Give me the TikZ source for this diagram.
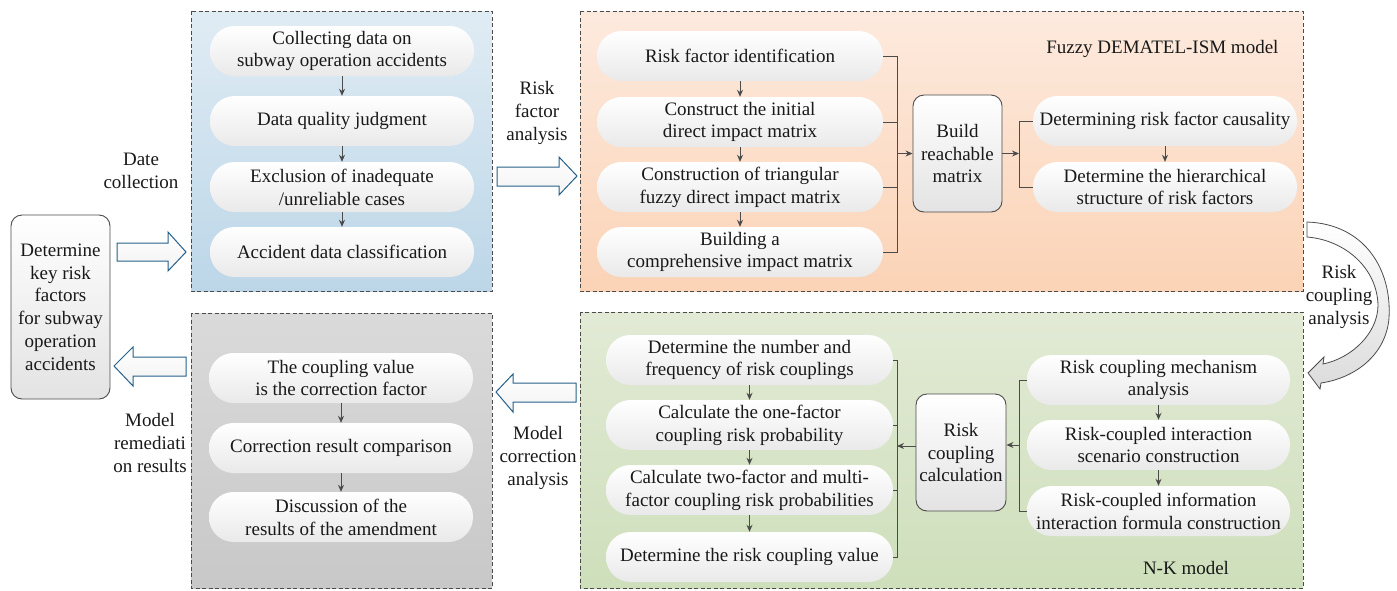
\documentclass[tikz,border=0pt]{standalone}
\usepackage{fontspec}
\setmainfont{Liberation Serif}
\usetikzlibrary{arrows.meta,positioning}

\definecolor{linegray}{RGB}{75,75,75}
\definecolor{arrowblue}{RGB}{38,96,138}
\definecolor{bluetop}{RGB}{224,236,244}
\definecolor{bluebot}{RGB}{188,214,232}
\definecolor{orangetop}{RGB}{253,234,222}
\definecolor{orangebot}{RGB}{251,211,182}
\definecolor{greentop}{RGB}{226,234,213}
\definecolor{greenbot}{RGB}{206,223,187}
\definecolor{graytop}{RGB}{218,218,218}
\definecolor{graybot}{RGB}{200,200,200}

\tikzset{
  every node/.style={font=\fontsize{19}{22.8}\selectfont, text=black!90},
  panel/.style={draw=linegray, line width=0.9pt, dash pattern=on 4pt off 2.5pt},
  pill/.style={rounded corners=24.5pt, minimum width=#1, minimum height=50pt, inner sep=1pt, align=center, top color=white, bottom color=gray!17},
  box/.style={draw=linegray, line width=0.9pt, rounded corners=11pt, align=center, inner sep=2pt, top color=white, bottom color=gray!22},
  arr/.style={draw=linegray, line width=0.9pt, -{Stealth[length=7pt,width=6pt]}},
  bline/.style={draw=linegray, line width=0.9pt},
  blockarr/.style={draw=arrowblue, line width=1pt, top color=white, bottom color=gray!10},
  curvearr/.style={draw=linegray, line width=0.8pt, top color=white, bottom color=gray!28},
  lbl/.style={align=center}
}

\begin{document}
\begin{tikzpicture}[x=1pt,y=1pt,yscale=-1]
  \useasboundingbox (0,0) rectangle (1397,590);

  % panels
  \path[panel, top color=bluetop, bottom color=bluebot] (191,11) rectangle (492,291);
  \path[panel, top color=graytop, bottom color=graybot] (191,313) rectangle (492,588);
  \path[panel, top color=orangetop, bottom color=orangebot] (580,11) rectangle (1303,291);
  \path[panel, top color=greentop, bottom color=greenbot] (580,312) rectangle (1303,588);

  \node[anchor=east] (fuzzytitle) at (1282,49) {Fuzzy DEMATEL-ISM model};
  \node (nktitle) at (1186,568) {N-K model};

  % key risk factors
  \node[box, minimum width=99pt, minimum height=184pt] (key) at (60.5,307)
    {Determine\\key risk\\factors\\for subway\\operation\\accidents};

  % data collection
  \node[pill=264pt] (b1) at (342,51) {Collecting data on\\subway operation accidents};
  \node[pill=264pt] (b2) at (342,121) {Data quality judgment};
  \node[pill=264pt] (b3) at (342,187) {Exclusion of inadequate\\/unreliable cases};
  \node[pill=264pt] (b4) at (342,252) {Accident data classification};
  \draw[arr] (b1) -- (b2);
  \draw[arr] (b2) -- (b3);
  \draw[arr] (b3) -- (b4);

  % model remediation
  \node[pill=264pt] (c1) at (341,378) {The coupling value\\is the correction factor};
  \node[pill=264pt] (c2) at (341,448) {Correction result comparison};
  \node[pill=264pt] (c3) at (341,517) {Discussion of the\\results of the amendment};
  \draw[arr] (c1) -- (c2);
  \draw[arr] (c2) -- (c3);

  % fuzzy DEMATEL-ISM
  \node[pill=286pt] (o1) at (740,56) {Risk factor identification};
  \node[pill=286pt] (o2) at (740,122) {Construct the initial\\direct impact matrix};
  \node[pill=286pt] (o3) at (740,187) {Construction of triangular\\fuzzy direct impact matrix};
  \node[pill=286pt] (o4) at (740,252) {Building a\\comprehensive impact matrix};
  \draw[arr] (o1) -- (o2);
  \draw[arr] (o2) -- (o3);
  \draw[arr] (o3) -- (o4);
  \node[box, minimum width=89pt, minimum height=117pt] (build) at (957.5,153.5) {Build\\reachable\\matrix};
  \node[pill=264pt] (o5) at (1165,121) {Determining risk factor causality};
  \node[pill=264pt] (o6) at (1165,187) {Determine the hierarchical\\structure of risk factors};
  \draw[arr] (o5) -- (o6);

  \coordinate (obr) at (897,153.5);
  \coordinate (rbr) at (1019,153.5);
  \draw[bline] (o1.east) -| (obr) |- (o4.east);
  \draw[bline] (o2.east) -- (o2.east -| obr);
  \draw[bline] (o3.east) -- (o3.east -| obr);
  \draw[arr] (obr) -- (build.west);
  \draw[arr] (build.east) -- (rbr);
  \draw[bline] (o5.west) -| (rbr) |- (o6.west);

  % N-K model
  \node[pill=287pt] (g1) at (749.5,360) {Determine the number and\\frequency of risk couplings};
  \node[pill=287pt] (g2) at (749.5,425) {Calculate the one-factor\\coupling risk probability};
  \node[pill=287pt] (g3) at (749.5,490) {Calculate two-factor and multi-\\factor coupling risk probabilities};
  \node[pill=287pt] (g4) at (749.5,557) {Determine the risk coupling value};
  \draw[arr] (g1) -- (g2);
  \draw[arr] (g2) -- (g3);
  \draw[arr] (g3) -- (g4);
  \node[box, minimum width=90pt, minimum height=117pt] (rcc) at (961,452.5) {Risk\\coupling\\calculation};
  \node[pill=263pt] (g5) at (1158.5,380) {Risk coupling mechanism\\analysis};
  \node[pill=263pt] (g6) at (1158.5,445) {Risk-coupled interaction\\scenario construction};
  \node[pill=263pt] (g7) at (1158.5,511) {Risk-coupled information\\interaction formula construction};
  \draw[arr] (g5) -- (g6);
  \draw[arr] (g6) -- (g7);

  \coordinate (gbr) at (897,446);
  \coordinate (hbr) at (1019,445);
  \draw[bline] (g1.east) -| (gbr) |- (g4.east);
  \draw[bline] (g2.east) -- (g2.east -| gbr);
  \draw[bline] (g3.east) -- (g3.east -| gbr);
  \draw[arr] (rcc.west |- gbr) -- (gbr);
  \draw[bline] (g5.west) -| (hbr) |- (g7.west);
  \draw[arr] (hbr) -- (rcc.east |- hbr);

  % stage labels
  \node[lbl] (datecol) at (141,171) {Date\\collection};
  \node[lbl] (rfa) at (537,113) {Risk\\factor\\analysis};
  \node[lbl] (mrr) at (150,443) {Model\\remediati\\on results};
  \node[lbl] (mca) at (538,458) {Model\\correction\\analysis};
  \node[lbl] (rca) at (1339,297) {Risk\\coupling\\analysis};

  % block arrows
  \path[blockarr] (117,243) -- (168,243) -- (168,232) -- (186,252) -- (168,271) -- (168,261) -- (117,261) -- cycle;
  \path[blockarr] (497,167) -- (559,167) -- (559,157) -- (577,176) -- (559,195) -- (559,186) -- (497,186) -- cycle;
  \path[blockarr] (186,357) -- (133,357) -- (133,347) -- (114,366) -- (133,386) -- (133,376) -- (186,376) -- cycle;
  \path[blockarr] (576,383) -- (513,383) -- (513,374) -- (496,392) -- (513,412) -- (513,402) -- (576,402) -- cycle;

  % curved arrow
  \path[curvearr] (1307,222) .. controls (1365,224) and (1392,270) .. (1389,318)
    .. controls (1386,355) and (1355,378) .. (1321,383)
    -- (1320,389) -- (1308,373) -- (1324,357) -- (1323,364)
    .. controls (1352,358) and (1378,333) .. (1378,305)
    .. controls (1377,268) and (1345,240) .. (1307,237) -- cycle;
\end{tikzpicture}
\end{document}
